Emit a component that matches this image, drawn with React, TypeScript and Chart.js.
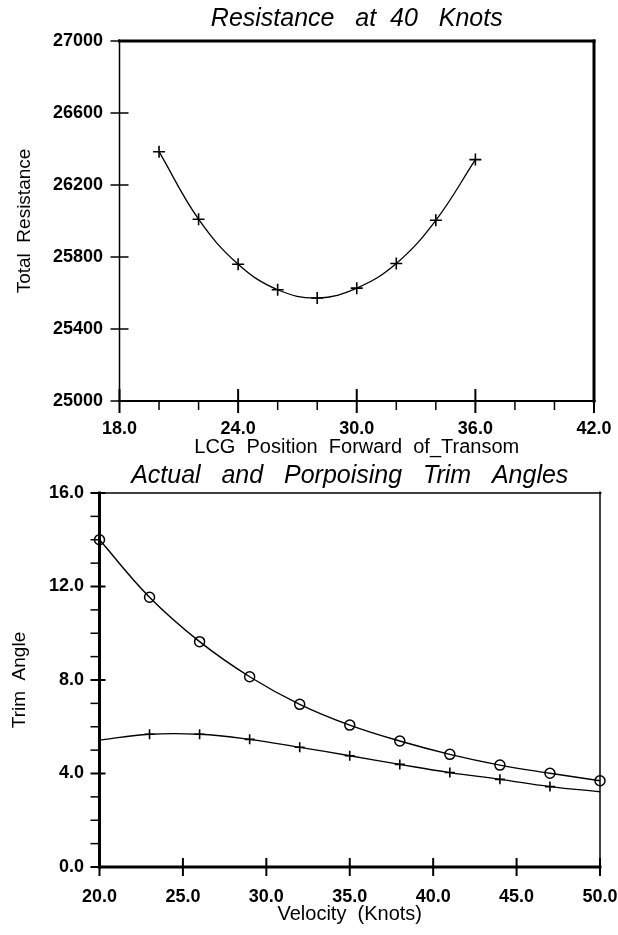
import React, { useEffect, useRef } from 'react';
import { Chart, registerables } from 'chart.js';

Chart.register(...registerables);

// ---------- Data: Resistance at 40 Knots ----------
const lcgPositions = [20, 22, 24, 26, 28, 30, 32, 34, 36];
const totalResistance = [26385, 26010, 25760, 25618, 25572, 25627, 25764, 26004, 26341];
const lcgRange = [18, 42];
const lcgStep = 2;
const lcgLabelEvery = 6;
const resistanceRange = [25000, 27000];
const resistanceStep = 400;

// ---------- Data: Actual and Porpoising Trim Angles ----------
const velocities = [20, 23, 26, 29, 32, 35, 38, 41, 44, 47, 50];
const actualTrim = [14.0, 11.54, 9.64, 8.14, 6.96, 6.07, 5.39, 4.82, 4.36, 4.01, 3.69];
const porpoisingTrim = [5.43, 5.68, 5.68, 5.46, 5.12, 4.76, 4.39, 4.04, 3.75, 3.44, 3.22];
const porpoisingMarked = [false, true, true, true, true, true, true, true, true, true, false];
const velocityRange = [20, 50];
const velocityStep = 5;
const trimRange = [0, 16];
const trimStep = 1;
const trimLabelEvery = 4;

const FONT = "'Liberation Sans', Arial, sans-serif";

type FrameCfg = {
  frame: { top: number; right: number; bottom: number; left: number };
  xMajor: [number, number, number];
  xMinor: [number, number, number];
  yMajor: [number, number, number];
  yMinor: [number, number, number];
};

function makeFramePlugin(cfg: FrameCfg) {
  return {
    id: 'frameTicks',
    afterDraw(chart: any) {
      const { ctx, chartArea: a, scales } = chart;
      ctx.save();
      ctx.strokeStyle = '#000';
      ctx.lineCap = 'butt';
      const line = (x1: number, y1: number, x2: number, y2: number, w: number) => {
        ctx.lineWidth = w;
        ctx.beginPath();
        ctx.moveTo(x1, y1);
        ctx.lineTo(x2, y2);
        ctx.stroke();
      };
      const f = cfg.frame;
      const ext = 1.5;
      line(a.left - ext, a.top, a.right + ext, a.top, f.top);
      line(a.left - ext, a.bottom, a.right + ext, a.bottom, f.bottom);
      line(a.left, a.top - ext, a.left, a.bottom + ext, f.left);
      line(a.right, a.top - ext, a.right, a.bottom + ext, f.right);

      const xs = scales.x;
      xs.ticks.forEach((t: any) => {
        const px = xs.getPixelForValue(t.value);
        const major = t.label !== '' && t.label !== undefined;
        const [inn, out, w] = major ? cfg.xMajor : cfg.xMinor;
        line(px, a.bottom - inn, px, a.bottom + out, w);
      });
      const ys = scales.y;
      ys.ticks.forEach((t: any) => {
        const py = ys.getPixelForValue(t.value);
        const major = t.label !== '' && t.label !== undefined;
        const [inn, out, w] = major ? cfg.yMajor : cfg.yMinor;
        line(a.left - out, py, a.left + inn, py, w);
      });
      ctx.restore();
    },
  };
}

const tickFont = { family: FONT, size: 18, weight: 'bold' as const };

export default function App() {
  const topRef = useRef<HTMLCanvasElement | null>(null);
  const bottomRef = useRef<HTMLCanvasElement | null>(null);

  useEffect(() => {
    const topChart = new Chart(topRef.current as HTMLCanvasElement, {
      type: 'line',
      data: {
        datasets: [
          {
            data: lcgPositions.map((x, i) => ({ x, y: totalResistance[i] })),
            borderColor: '#000',
            borderWidth: 1.3,
            tension: 0.4,
            fill: false,
            pointStyle: 'cross',
            pointRadius: 6,
            pointBorderWidth: 1.6,
            pointBorderColor: '#000',
            pointBackgroundColor: '#000',
            clip: false as any,
          },
        ],
      },
      options: {
        responsive: false,
        animation: false,
        events: [],
        layout: { padding: { left: 0, right: 24, top: 0, bottom: 0 } },
        plugins: {
          legend: { display: false },
          tooltip: { enabled: false },
          title: {
            display: true,
            fullSize: false,
            text: 'Resistance   at  40   Knots',
            color: '#000',
            font: { family: FONT, size: 25, style: 'italic', weight: 'normal' },
            padding: { top: 4, bottom: 7 },
          },
        },
        scales: {
          x: {
            type: 'linear',
            min: lcgRange[0],
            max: lcgRange[1],
            grid: { display: false, drawTicks: false },
            border: { display: false },
            ticks: {
              stepSize: lcgStep,
              autoSkip: false,
              maxRotation: 0,
              padding: 17.2,
              color: '#000',
              font: tickFont,
              callback: (v: any) => (Number(v) % lcgLabelEvery === 0 ? Number(v).toFixed(1) : ''),
            },
            title: {
              display: true,
              text: 'LCG  Position  Forward  of_Transom',
              color: '#000',
              font: { family: FONT, size: 20 },
              padding: { top: 0, bottom: 21 },
            },
            afterFit: (s: any) => {
              s.height = 79;
              s.paddingLeft = 0;
              s.paddingRight = 0;
            },
          },
          y: {
            type: 'linear',
            min: resistanceRange[0],
            max: resistanceRange[1],
            grid: { display: false, drawTicks: false },
            border: { display: false },
            ticks: {
              stepSize: resistanceStep,
              autoSkip: false,
              padding: 16.5,
              color: '#000',
              font: tickFont,
              callback: (v: any) => String(v),
            },
            title: {
              display: true,
              text: 'Total  Resistance',
              color: '#000',
              font: { family: FONT, size: 19 },
              padding: { top: 13.6, bottom: 0 },
            },
            afterFit: (s: any) => {
              s.width = 119.5;
              s.paddingTop = 0;
              s.paddingBottom = 0;
            },
          },
        },
      },
      plugins: [
        makeFramePlugin({
          frame: { top: 3, right: 3, bottom: 2, left: 1.5 },
          xMajor: [12, 12, 2],
          xMinor: [0, 9, 1.5],
          yMajor: [9, 9, 1.5],
          yMinor: [0, 9, 1.5],
        }),
      ],
    } as any);

    const bottomChart = new Chart(bottomRef.current as HTMLCanvasElement, {
      type: 'line',
      data: {
        datasets: [
          {
            data: velocities.map((x, i) => ({ x, y: actualTrim[i] })),
            borderColor: '#000',
            borderWidth: 1.4,
            tension: 0.4,
            fill: false,
            pointStyle: 'circle',
            pointRadius: 5,
            pointBorderWidth: 1.5,
            pointBorderColor: '#000',
            pointBackgroundColor: 'rgba(0,0,0,0)',
            clip: false as any,
          },
          {
            data: velocities.map((x, i) => ({ x, y: porpoisingTrim[i] })),
            borderColor: '#000',
            borderWidth: 1.3,
            tension: 0.4,
            fill: false,
            pointStyle: 'cross',
            pointRadius: porpoisingMarked.map((m) => (m ? 5 : 0)),
            pointBorderWidth: 1.6,
            pointBorderColor: '#000',
            pointBackgroundColor: '#000',
            clip: false as any,
          },
        ],
      },
      options: {
        responsive: false,
        animation: false,
        events: [],
        layout: { padding: { left: 0, right: 18, top: 0, bottom: 0 } },
        plugins: {
          legend: { display: false },
          tooltip: { enabled: false },
          title: {
            display: true,
            fullSize: false,
            text: 'Actual   and   Porpoising   Trim   Angles',
            color: '#000',
            font: { family: FONT, size: 25, style: 'italic', weight: 'normal' },
            padding: { top: 11, bottom: 2 },
          },
        },
        scales: {
          x: {
            type: 'linear',
            min: velocityRange[0],
            max: velocityRange[1],
            grid: { display: false, drawTicks: false },
            border: { display: false },
            ticks: {
              stepSize: velocityStep,
              autoSkip: false,
              maxRotation: 0,
              padding: 19.2,
              color: '#000',
              font: tickFont,
              callback: (v: any) => Number(v).toFixed(1),
            },
            title: {
              display: true,
              text: 'Velocity  (Knots)',
              color: '#000',
              font: { family: FONT, size: 20 },
              padding: { top: 0, bottom: 9 },
            },
            afterFit: (s: any) => {
              s.height = 68;
              s.paddingLeft = 0;
              s.paddingRight = 0;
            },
          },
          y: {
            type: 'linear',
            min: trimRange[0],
            max: trimRange[1],
            grid: { display: false, drawTicks: false },
            border: { display: false },
            ticks: {
              stepSize: trimStep,
              autoSkip: false,
              padding: 15.5,
              color: '#000',
              font: tickFont,
              callback: (v: any) => (Number(v) % trimLabelEvery === 0 ? Number(v).toFixed(1) : ''),
            },
            title: {
              display: true,
              text: 'Trim  Angle',
              color: '#000',
              font: { family: FONT, size: 19 },
              padding: { top: 8.6, bottom: 0 },
            },
            afterFit: (s: any) => {
              s.width = 99.5;
              s.paddingTop = 0;
              s.paddingBottom = 0;
            },
          },
        },
      },
      plugins: [
        makeFramePlugin({
          frame: { top: 1.5, right: 1.5, bottom: 3, left: 3 },
          xMajor: [9, 9, 2],
          xMinor: [0, 9, 1.5],
          yMajor: [6, 9, 2],
          yMinor: [0, 9, 1.5],
        }),
      ],
    } as any);

    return () => {
      topChart.destroy();
      bottomChart.destroy();
    };
  }, []);

  return (
    <div
      style={{
        position: 'absolute',
        left: 0,
        top: 0,
        width: 618,
        height: 935,
        background: '#fff',
        overflow: 'hidden',
      }}
    >
      <canvas
        ref={topRef}
        width={618}
        height={480}
        style={{ position: 'absolute', left: 0, top: 0, width: 618, height: 480 }}
      />
      <canvas
        ref={bottomRef}
        width={618}
        height={485}
        style={{ position: 'absolute', left: 0, top: 450, width: 618, height: 485 }}
      />
    </div>
  );
}
